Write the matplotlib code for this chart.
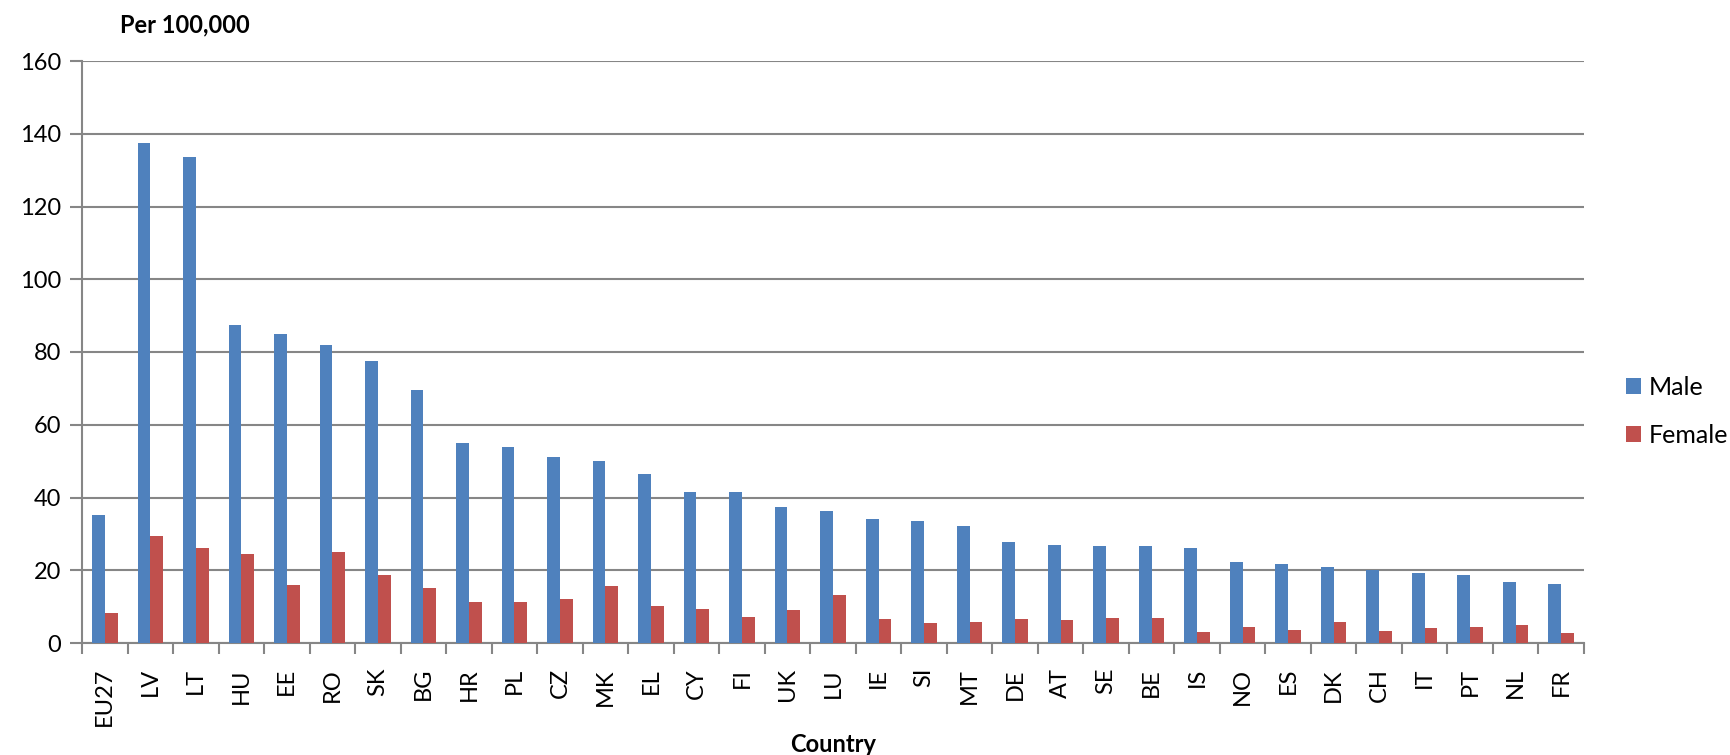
import numpy as np
import matplotlib.pyplot as plt

plt.rcParams['font.family'] = ['Lato', 'DejaVu Sans']

# Data (per 100,000)
countries = ['EU27', 'LV', 'LT', 'HU', 'EE', 'RO', 'SK', 'BG', 'HR', 'PL', 'CZ',
             'MK', 'EL', 'CY', 'FI', 'UK', 'LU', 'IE', 'SI', 'MT', 'DE', 'AT',
             'SE', 'BE', 'IS', 'NO', 'ES', 'DK', 'CH', 'IT', 'PT', 'NL', 'FR']
male = [35.1, 137.4, 133.7, 87.3, 85.0, 81.9, 77.5, 69.5, 55.1, 53.8, 51.2,
        50.0, 46.5, 41.6, 41.4, 37.4, 36.2, 34.0, 33.6, 32.1, 27.8, 26.9,
        26.7, 26.6, 26.1, 22.3, 21.6, 20.8, 20.0, 19.2, 18.7, 16.8, 16.3]
female = [8.2, 29.5, 26.0, 24.5, 16.0, 25.0, 18.7, 15.1, 11.3, 11.3, 12.1,
          15.6, 10.1, 9.3, 7.1, 9.0, 13.2, 6.6, 5.5, 5.9, 6.6, 6.4,
          7.0, 6.9, 3.1, 4.5, 3.5, 5.9, 3.4, 4.2, 4.4, 4.9, 2.7]
yticks = [0, 20, 40, 60, 80, 100, 120, 140, 160]

blue = '#4F81BD'
red = '#C0504D'
grey = '#868686'

W, H = 1730, 755
fig = plt.figure(figsize=(W / 100, H / 100), dpi=100)
# plot area in pixels: left 82, right 1584, top 61, bottom 643
ax = fig.add_axes([82 / W, 1 - 643 / H, 1502 / W, 582 / H])

x = np.arange(len(countries))
w = 0.28
ax.bar(x - w / 2, male, w, color=blue, label='Male', zorder=3)
ax.bar(x + w / 2, female, w, color=red, label='Female', zorder=3)

ax.set_xlim(-0.5, len(countries) - 0.5)
ax.set_ylim(0, 160)
ax.set_yticks(yticks)
ax.yaxis.grid(True, color=grey, linewidth=1.5, zorder=0)

ax.set_xticks(x)
ax.set_xticklabels(countries, rotation=90, fontsize=17)
ax.tick_params(axis='x', length=0, pad=18)
ax.set_xticks(np.arange(-0.5, len(countries)), minor=True)
ax.tick_params(axis='x', which='minor', length=8, width=1.5, color=grey, direction='out')
ax.tick_params(axis='y', length=9, width=1.5, color=grey, labelsize=17, pad=6)

for s in ['top', 'right']:
    ax.spines[s].set_visible(False)
for s in ['left', 'bottom']:
    ax.spines[s].set_color(grey)
    ax.spines[s].set_linewidth(1.5)

fig.text(120 / W, 1 - 25 / H, 'Per 100,000', fontsize=17, fontweight='bold',
         va='center', ha='left')
fig.text(833 / W, 1 - 745 / H, 'Country', fontsize=17, fontweight='bold',
         va='center', ha='center')

ax.legend(loc='center left', bbox_to_anchor=(1626 / W, 1 - 411 / H),
          bbox_transform=fig.transFigure, frameon=False, fontsize=18,
          borderpad=0, borderaxespad=0,
          handlelength=0.6, handleheight=0.6, handletextpad=0.3, labelspacing=1.0)

fig.savefig('out.png', dpi=100)
